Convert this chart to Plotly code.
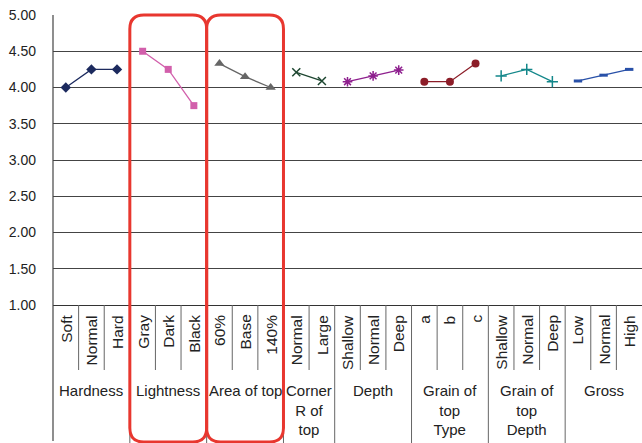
import plotly.graph_objects as go

# ---- data ----
groups = ["Hardness", "Lightness", "Area of top", "Corner<br>R of<br>top", "Depth",
          "Grain of<br>top<br>Type", "Grain of<br>top<br>Depth", "Gross"]
levels = [
    ["Soft", "Normal", "Hard"],
    ["Gray", "Dark", "Black"],
    ["60%", "Base", "140%"],
    ["Normal", "Large"],
    ["Shallow", "Normal", "Deep"],
    ["a", "b", "c"],
    ["Shallow", "Normal", "Deep"],
    ["Low", "Normal", "High"],
]
values = [
    [4.00, 4.25, 4.25],
    [4.50, 4.25, 3.75],
    [4.33, 4.15, 4.00],
    [4.21, 4.09],
    [4.08, 4.16, 4.24],
    [4.08, 4.08, 4.33],
    [4.16, 4.25, 4.08],
    [4.09, 4.17, 4.25],
]
y_ticks = [1.00, 1.50, 2.00, 2.50, 3.00, 3.50, 4.00, 4.50, 5.00]
highlighted = ["Lightness", "Area of top"]

# ---- styles ----
colors = ["#1c2a5e", "#d25fab", "#666666", "#1d4630", "#8e1f8e", "#8c1d28", "#13878a", "#2850a8"]
symbols = ["diamond", "square", "triangle-up", "x-thin-open", "asterisk-open",
           "circle", "cross-thin-open", "line-ew-open"]
sizes = [8, 7, 9, 8, 8, 8, 8, 6]
FONT = "Liberation Sans, Arial, sans-serif"
W, H = 642, 443
L, R, T, B = 53, 0, 15, 138
plot_h = H - T - B

def px_to_paper_y(py):
    return (H - B - py) / plot_h

fig = go.Figure()
idx = 0
starts = []
for g, (labs, vals) in enumerate(zip(levels, values)):
    xs = list(range(idx, idx + len(labs)))
    starts.append(idx)
    mk = dict(symbol=symbols[g], size=sizes[g], color=colors[g])
    if "open" in symbols[g]:
        mk["line"] = dict(color=colors[g], width=1.5 if g != 7 else 3)
    fig.add_trace(go.Scatter(x=xs, y=vals, mode="lines+markers",
                             line=dict(color=colors[g], width=1.3),
                             marker=mk, showlegend=False,
                             hovertext=labs, name=groups[g].replace("<br>", " ")))
    idx += len(labs)
n = idx

shapes = []
annotations = []
cat_bottom = px_to_paper_y(370)
full_bottom = px_to_paper_y(443)
sep_col = "#666666"
for g, labs in enumerate(levels):
    s = starts[g]
    for k, lab in enumerate(labs):
        annotations.append(dict(x=s + k, y=px_to_paper_y(313), xref="x", yref="paper",
                                text=lab, textangle=-90, showarrow=False,
                                xanchor="center", yanchor="top",
                                font=dict(family=FONT, size=15.5, color="#222")))
        if k < len(labs) - 1:
            shapes.append(dict(type="line", xref="x", yref="paper",
                               x0=s + k + 0.5, x1=s + k + 0.5, y0=0, y1=cat_bottom,
                               line=dict(color=sep_col, width=1)))
    end = s + len(labs) - 0.5
    if end < n - 0.5:
        shapes.append(dict(type="line", xref="x", yref="paper",
                           x0=end, x1=end, y0=0, y1=full_bottom,
                           line=dict(color=sep_col, width=1)))
    annotations.append(dict(x=s + (len(labs) - 1) / 2, y=px_to_paper_y(380), xref="x",
                            yref="paper", text=groups[g], showarrow=False,
                            xanchor="center", yanchor="top",
                            font=dict(family=FONT, size=15, color="#222")))

# y-axis line extended down
shapes.append(dict(type="line", xref="paper", yref="paper", x0=0, x1=0,
                   y0=1, y1=px_to_paper_y(441), line=dict(color="#444", width=1.2)))

# red rounded rectangles
slot_px = (W - L - R) / n
rx = 14 / slot_px
ry = 14 / plot_h
y_top = 1.0
y_bot = px_to_paper_y(442)
for name in highlighted:
    g = groups.index(name)
    x0 = starts[g] - 0.5
    x1 = starts[g] + len(levels[g]) - 0.5
    path = (f"M {x0 + rx},{y_top} L {x1 - rx},{y_top} Q {x1},{y_top} {x1},{y_top - ry} "
            f"L {x1},{y_bot + ry} Q {x1},{y_bot} {x1 - rx},{y_bot} "
            f"L {x0 + rx},{y_bot} Q {x0},{y_bot} {x0},{y_bot + ry} "
            f"L {x0},{y_top - ry} Q {x0},{y_top} {x0 + rx},{y_top} Z")
    shapes.append(dict(type="path", xref="x", yref="paper", path=path,
                       line=dict(color="#e8372f", width=3), layer="above"))

fig.update_layout(
    width=W, height=H,
    margin=dict(l=L, r=R, t=T, b=B),
    paper_bgcolor="white", plot_bgcolor="white",
    shapes=shapes, annotations=annotations,
    font=dict(family=FONT, size=14, color="#222"),
)
fig.update_xaxes(range=[-0.5, n - 0.5], showticklabels=False, showgrid=False,
                 zeroline=False, showline=True, linecolor="#333", linewidth=1.3,
                 ticks="")
fig.update_yaxes(range=[1, 5], tickvals=y_ticks, ticktext=[f"{v:.2f}" for v in y_ticks],
                 showgrid=True, gridcolor="#444", gridwidth=1.2, zeroline=False,
                 showline=False, ticks="", ticklabelstandoff=16,
                 tickfont=dict(family=FONT, size=14, color="#222"))

fig.write_html("out.html", config={"displayModeBar": False},
               post_script="document.body.style.margin='0';"
                           "document.body.style.overflow='hidden';")
